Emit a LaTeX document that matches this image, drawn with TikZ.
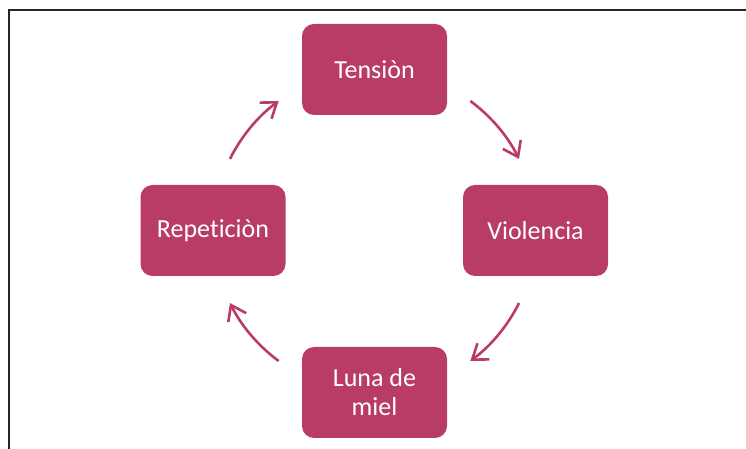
\documentclass[tikz,border=0pt]{standalone}
\usepackage{fontspec}
\setmainfont{Carlito}[RawFeature=-liga]
\usetikzlibrary{arrows.meta,calc}
\definecolor{berry}{RGB}{185,60,102}
\tikzset{
  stagebox/.style={rectangle, rounded corners=12pt, fill=berry, draw=none,
    minimum width=145pt, minimum height=91pt, text=white, align=center,
    font=\fontsize{26}{29}\selectfont, inner sep=0pt},
  cyclearrow/.style={draw=berry, line width=2.6pt,
    -{Straight Barb[length=14pt,width=20pt,line width=2.6pt]}},
  frameline/.style={draw=black!85, line width=2pt}
}
\begin{document}
\begin{tikzpicture}[x=1pt,y=1pt]
\useasboundingbox (0,0) rectangle (746,449);
\coordinate (fl) at (9,0);
\coordinate (ftl) at (9,439);
\coordinate (fr) at (746,439);
\draw[frameline] (fl) -- (ftl) -- (fr);
\coordinate (C) at (374.5,218);
\node[stagebox] (T) at (374.5,379.5) {Tensiòn};
\node[stagebox] (V) at (535.5,218.5) {Violencia};
\node[stagebox] (R) at (213,218.5) {Repeticiòn};
\node[stagebox] (L) at (374.5,56.5) {Luna de\\miel};
\coordinate (a1) at ($(C)+(53.6:161.5)$);
\coordinate (a2) at ($(C)+(-26.5:161.5)$);
\coordinate (a3) at ($(C)+(-126.4:161.5)$);
\coordinate (a4) at ($(C)+(153.5:161.5)$);
\draw[cyclearrow] (a1) arc[start angle=53.6, end angle=26.5, radius=161.5];
\draw[cyclearrow] (a2) arc[start angle=-26.5, end angle=-53.6, radius=161.5];
\draw[cyclearrow] (a3) arc[start angle=-126.4, end angle=-153.5, radius=161.5];
\draw[cyclearrow] (a4) arc[start angle=153.5, end angle=126.4, radius=161.5];
\end{tikzpicture}
\end{document}
